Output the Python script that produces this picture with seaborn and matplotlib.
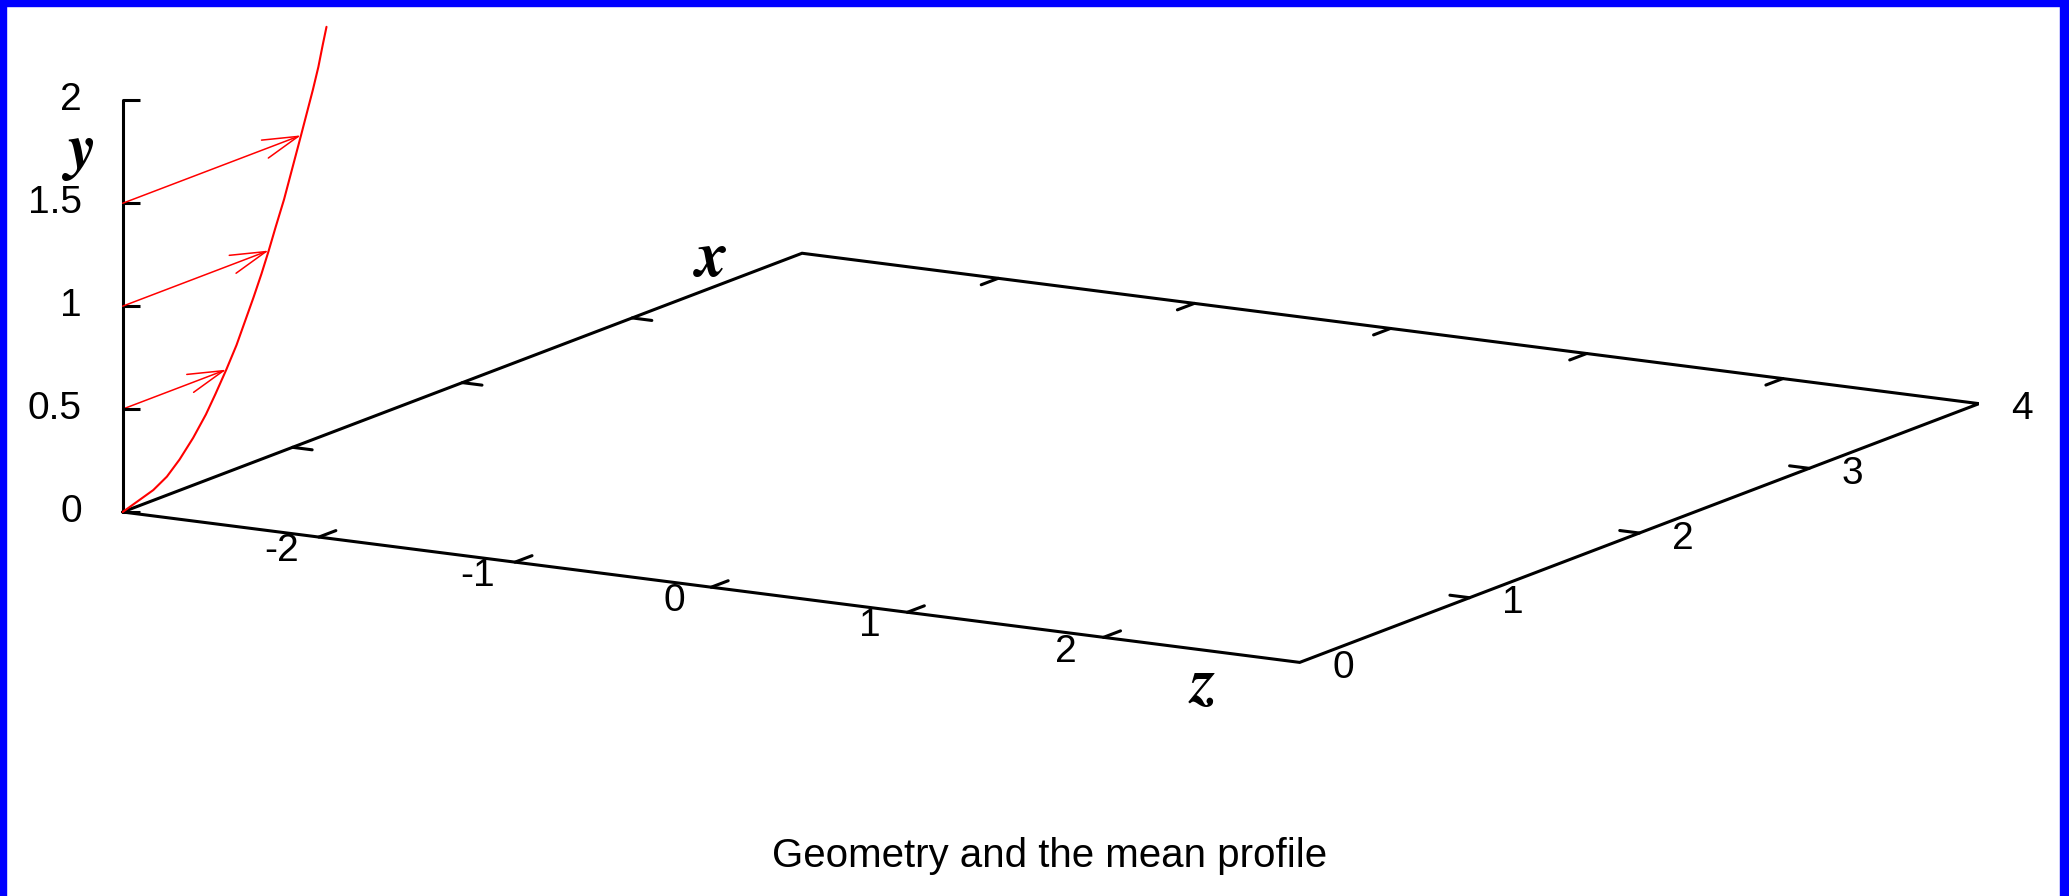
import numpy as np
import matplotlib
matplotlib.use("Agg")
import matplotlib.pyplot as plt
import seaborn as sns
from matplotlib.patches import FancyArrowPatch, Rectangle
from matplotlib.transforms import offset_copy
from mpl_toolkits.mplot3d import proj3d

sns.set_theme(style="white")
plt.rcParams["font.family"] = ["Liberation Sans", "DejaVu Sans"]
plt.rcParams["text.color"] = "black"

# ---- data -------------------------------------------------------------
# mean streamwise velocity U as a function of wall-normal distance y
profile_y = [0.00, 0.05, 0.09, 0.15, 0.23, 0.32, 0.40, 0.50, 0.60, 0.70,
             0.80, 0.90, 1.00, 1.10, 1.22, 1.36, 1.50, 1.60, 1.70, 1.80,
             1.90, 1.98]
profile_u = [0.00, 0.18, 0.26, 0.335, 0.415, 0.49, 0.545, 0.61, 0.67, 0.72,
             0.77, 0.817, 0.86, 0.90, 0.95, 1.00, 1.05, 1.085, 1.12, 1.152,
             1.178, 1.20]
# velocity vectors drawn from the wall-normal axis
arrow_y = [0.5, 1.0, 1.5]
arrow_u = [0.61, 0.86, 1.05]

z_range = [-3, 3]
x_range = [0, 4]
y_range = [0, 2]
z_ticks = [-2, -1, 0, 1, 2]
z_tick_labels = ["-2", "-1", "0", "1", "2"]
x_ticks = [0, 1, 2, 3, 4]
x_tick_labels = ["0", "1", "2", "3", "4"]
y_ticks = [0, 0.5, 1, 1.5, 2]
y_tick_labels = ["0", "0.5", "1", "1.5", "2"]
title_text = "Geometry and the mean profile"

# ---- figure -----------------------------------------------------------
W, H = 2069, 896
fig = plt.figure(figsize=(W / 100, H / 100), dpi=100)
fig.patch.set_facecolor("white")

# plot axes: X = spanwise z, Y = streamwise x, Z = wall-normal y
ax = fig.add_axes([0, 0, 1, 1], projection="3d", proj_type="ortho")
ax.set_xlim(*z_range)
ax.set_ylim(*x_range)
ax.set_zlim(*y_range)
ax.set_xticks([])
ax.set_yticks([])
ax.set_zticks([])
ax.set_box_aspect((1.0, 0.9965, 0.3103))
ax.view_init(elev=12.745, azim=-59.92)
ax.set_axis_off()
ax.patch.set_alpha(0)

# place the box: front-left corner and front-right corner in pixels
fig.canvas.draw()


def to_px(X, Y, Z):
    u, v, _ = proj3d.proj_transform(np.array([X]), np.array([Y]),
                                    np.array([Z]), ax.M)
    return ax.transData.transform((u[0], v[0]))


o = to_px(z_range[0], 0, 0)
f = to_px(z_range[1], 0, 0)
o_t = np.array([122.7, H - 512.0])
f_t = np.array([1299.7, H - 662.4])
k = np.linalg.norm(f_t - o_t) / np.linalg.norm(f - o)
bb = ax.get_position(original=False)
x0, y0, S = bb.x0 * W, bb.y0 * H, bb.width * W
nx0 = o_t[0] - k * (o[0] - x0)
ny0 = o_t[1] - k * (o[1] - y0)
ax.set_position([nx0 / W, ny0 / H, S * k / W, S * k / H])

LW = 2.2
black = "black"
z0, z1 = z_range
x0d, x1d = x_range

# base rectangle
ax.plot([z0, z1, z1, z0, z0], [x0d, x0d, x1d, x1d, x0d], [0, 0, 0, 0, 0],
        color=black, lw=LW, solid_joinstyle="miter")
# wall-normal axis
ax.plot([z0, z0], [0, 0], list(y_range), color=black, lw=LW)

# tick marks on the base
tz = 0.10  # length of z ticks, in x units
tx = 0.10  # length of x ticks, in z units
for zt in z_ticks:
    ax.plot([zt, zt], [x0d, x0d + tz], [0, 0], color=black, lw=LW)
    ax.plot([zt, zt], [x1d, x1d - tz], [0, 0], color=black, lw=LW)
for xt in x_ticks[1:-1]:
    ax.plot([z1, z1 - tx], [xt, xt], [0, 0], color=black, lw=LW)
    ax.plot([z0, z0 + tx], [xt, xt], [0, 0], color=black, lw=LW)
# y ticks: short horizontal strokes to the right of the axis
ax.plot([z0] * len(y_ticks), [0] * len(y_ticks), y_ticks, linestyle="none",
        marker=[(0, 0), (1, 0)], markersize=24.5, markeredgewidth=LW,
        markeredgecolor=black)

# tick labels
FS = 28
for zt, lab in zip(z_ticks, z_tick_labels):
    ax.text(zt, -0.22, 0, lab, ha="center", va="center", fontsize=FS,
            color=black)
for xt, lab in zip(x_ticks, x_tick_labels):
    ax.text(z1 + 0.22, xt, 0, lab, ha="center", va="center", fontsize=FS,
            color=black)
left_off = offset_copy(ax.transData, fig=fig, x=-41, y=0, units="dots")
for yt, lab in zip(y_ticks, y_tick_labels):
    ax.text(z0, 0, yt, lab, ha="right", va="center", fontsize=FS,
            color=black, transform=left_off)

# axis names
name_kw = dict(family="STIXGeneral", weight="bold", style="italic",
               fontsize=46, ha="center", va="center", color=black)
ax.text(-3.28, 3.79, 0, "x", **name_kw)
ax.text(2.87, -0.42, 0, "z", **name_kw)
ax.text(z0, 0, 1.75, "y", transform=left_off, **name_kw)

# mean profile
ax.plot([z0] * len(profile_y), profile_u, profile_y, color="red", lw=1.5)


class Arrow3D(FancyArrowPatch):
    def __init__(self, xs, ys, zs, **kw):
        super().__init__((0, 0), (0, 0), **kw)
        self._verts3d = xs, ys, zs

    def do_3d_projection(self, renderer=None):
        xs, ys, zs = proj3d.proj_transform(*map(np.asarray, self._verts3d),
                                           self.axes.M)
        self.set_positions((xs[0], ys[0]), (xs[1], ys[1]))
        return np.min(zs)


for yv, uv in zip(arrow_y, arrow_u):
    arr = Arrow3D([z0, z0], [0, uv], [yv, yv],
                  arrowstyle="->,head_length=25.7,head_width=6.9",
                  mutation_scale=1, shrinkA=0, shrinkB=0,
                  color="red", lw=1.1)
    ax.add_artist(arr)

# title
fig.text(1050 / W, (H - 867) / H, title_text, ha="center", va="baseline",
         fontsize=29, color=black)

# blue frame on left, top and right
blue = "#0000ff"
fig.add_artist(Rectangle((0, 0), 6 / W, 1, transform=fig.transFigure,
                         color=blue, zorder=10))
fig.add_artist(Rectangle((0, 1 - 6 / H), 1, 6 / H, transform=fig.transFigure,
                         color=blue, zorder=10))
fig.add_artist(Rectangle((1 - 9 / W, 0), 9 / W, 1, transform=fig.transFigure,
                         color=blue, zorder=10))

fig.savefig("out.png", dpi=100, facecolor="white")
